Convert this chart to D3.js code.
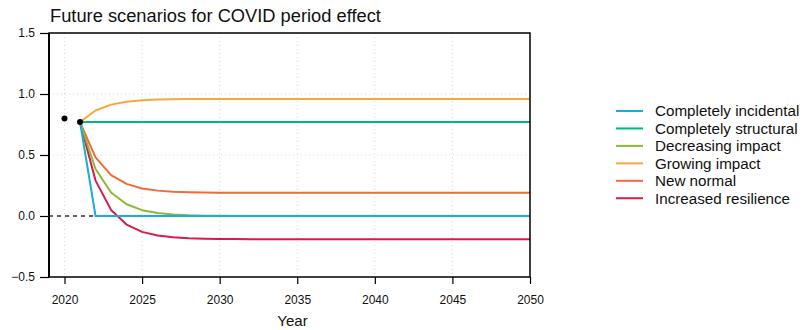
<!DOCTYPE html>
<html>
<head>
<meta charset="utf-8">
<script src="https://cdn.jsdelivr.net/npm/d3@7"></script>
<style>
  html, body { margin: 0; padding: 0; background: #fff; }
  svg { display: block; font-family: "Liberation Sans", Arial, sans-serif; }
</style>
</head>
<body>
<svg id="chart" width="803" height="330"></svg>
<script>
// Projection years for the scenarios
const years = d3.range(2021, 2051);

// Observed period effect (2020, 2021)
const observedYears = [2020, 2021];
const observedValues = [0.80, 0.77];

// Scenario names and colours
const scenarioNames = [
  "Completely incidental",
  "Completely structural",
  "Decreasing impact",
  "Growing impact",
  "New normal",
  "Increased resilience"
];
const scenarioColors = ["#17afd9", "#00b877", "#8cb83a", "#f8a73c", "#f06a3a", "#d61c4c"];

// Scenario values, 2021 to 2050
const incidental = [0.77, 0, 0, 0, 0, 0, 0, 0, 0, 0, 0, 0, 0, 0, 0, 0, 0, 0, 0, 0, 0, 0, 0, 0, 0, 0, 0, 0, 0, 0];
const structural = [0.77, 0.77, 0.77, 0.77, 0.77, 0.77, 0.77, 0.77, 0.77, 0.77, 0.77, 0.77, 0.77, 0.77, 0.77, 0.77, 0.77, 0.77, 0.77, 0.77, 0.77, 0.77, 0.77, 0.77, 0.77, 0.77, 0.77, 0.77, 0.77, 0.77];
const decreasing = [0.77, 0.385, 0.193, 0.096, 0.048, 0.024, 0.012, 0.006, 0.003, 0.002, 0.001, 0, 0, 0, 0, 0, 0, 0, 0, 0, 0, 0, 0, 0, 0, 0, 0, 0, 0, 0];
const growing = [0.77, 0.865, 0.913, 0.936, 0.948, 0.954, 0.957, 0.959, 0.959, 0.96, 0.96, 0.96, 0.96, 0.96, 0.96, 0.96, 0.96, 0.96, 0.96, 0.96, 0.96, 0.96, 0.96, 0.96, 0.96, 0.96, 0.96, 0.96, 0.96, 0.96];
const newNormal = [0.77, 0.48, 0.335, 0.263, 0.226, 0.208, 0.199, 0.195, 0.192, 0.191, 0.19, 0.19, 0.19, 0.19, 0.19, 0.19, 0.19, 0.19, 0.19, 0.19, 0.19, 0.19, 0.19, 0.19, 0.19, 0.19, 0.19, 0.19, 0.19, 0.19];
const resilience = [0.77, 0.29, 0.05, -0.07, -0.13, -0.16, -0.175, -0.183, -0.186, -0.188, -0.189, -0.19, -0.19, -0.19, -0.19, -0.19, -0.19, -0.19, -0.19, -0.19, -0.19, -0.19, -0.19, -0.19, -0.19, -0.19, -0.19, -0.19, -0.19, -0.19];
const scenarioValues = [incidental, structural, decreasing, growing, newNormal, resilience];

// Axis ticks
const xTicks = [2020, 2025, 2030, 2035, 2040, 2045, 2050];
const yTicks = [-0.5, 0.0, 0.5, 1.0, 1.5];

// Zero reference segment
const zeroYears = [2019, 2022];

const title = "Future scenarios for COVID period effect";
const xLabel = "Year";

const svg = d3.select("#chart");
const plotLeft = 49, plotRight = 530, plotTop = 33, plotBottom = 277;

const x = d3.scaleLinear().domain([2019, 2050]).range([plotLeft, plotRight]);
const y = d3.scaleLinear().domain([-0.5, 1.5]).range([plotBottom, plotTop]);

// Grid
const grid = svg.append("g").attr("stroke", "#d9d9d9").attr("stroke-width", 1).attr("stroke-dasharray", "1,3");
grid.selectAll("line.v").data(xTicks.slice(0, -1)).join("line")
  .attr("x1", d => x(d)).attr("x2", d => x(d)).attr("y1", plotTop).attr("y2", plotBottom);
grid.selectAll("line.h").data(yTicks.slice(1, -1)).join("line")
  .attr("x1", plotLeft).attr("x2", plotRight).attr("y1", d => y(d)).attr("y2", d => y(d));

// Zero reference
svg.append("line")
  .attr("x1", x(zeroYears[0])).attr("x2", x(zeroYears[1]))
  .attr("y1", y(0)).attr("y2", y(0))
  .attr("stroke", "#333").attr("stroke-width", 1.5).attr("stroke-dasharray", "4,4");

// Scenario lines, drawn so that the first series ends up on top
const line = d3.line().x((d, i) => x(years[i])).y(d => y(d));
const series = scenarioNames.map((name, k) => ({ name, color: scenarioColors[k], values: scenarioValues[k] }));
svg.append("g").selectAll("path").data(series.slice().reverse()).join("path")
  .attr("d", d => line(d.values))
  .attr("fill", "none")
  .attr("stroke", d => d.color)
  .attr("stroke-width", 2)
  .attr("stroke-linejoin", "round");

// Observed points
svg.append("g").selectAll("circle").data(observedYears).join("circle")
  .attr("cx", d => x(d)).attr("cy", (d, i) => y(observedValues[i]))
  .attr("r", 3).attr("fill", "#000");

// Frame
svg.append("rect")
  .attr("x", plotLeft).attr("y", plotTop).attr("width", plotRight - plotLeft).attr("height", plotBottom - plotTop)
  .attr("fill", "none").attr("stroke", "#000").attr("stroke-width", 1.5);
svg.append("line")
  .attr("x1", plotLeft).attr("x2", plotLeft).attr("y1", plotTop).attr("y2", plotBottom)
  .attr("stroke", "#000").attr("stroke-width", 2);

// Axes
const xAxis = svg.append("g").attr("transform", `translate(0,${plotBottom})`)
  .call(d3.axisBottom(x).tickValues(xTicks).tickFormat(d3.format("d")).tickSize(7).tickSizeOuter(0).tickPadding(11));
const yAxis = svg.append("g").attr("transform", `translate(${plotLeft},0)`)
  .call(d3.axisLeft(y).tickValues(yTicks).tickFormat(d => d < 0 ? "\u2212" + d3.format(".1f")(-d) : d3.format(".1f")(d)).tickSize(9).tickSizeOuter(0).tickPadding(5));
[xAxis, yAxis].forEach(a => {
  a.select(".domain").remove();
  a.selectAll(".tick line").attr("stroke", "#000").attr("stroke-width", 1.2);
  a.selectAll(".tick text").attr("fill", "#111").style("font-size", "12px").style("font-family", "Liberation Sans, Arial, sans-serif");
});

// Titles
svg.append("text").attr("x", 50).attr("y", 22).attr("fill", "#111")
  .style("font-size", "18.3px").text(title);
svg.append("text").attr("x", (plotLeft + plotRight) / 2 + 3).attr("y", 326).attr("text-anchor", "middle").attr("fill", "#111")
  .style("font-size", "15px").text(xLabel);

// Legend
const legend = svg.append("g").attr("transform", "translate(616,111)");
const rows = legend.selectAll("g").data(series).join("g")
  .attr("transform", (d, i) => `translate(0,${i * 17.45})`);
rows.append("line").attr("x1", 0).attr("x2", 27).attr("stroke", d => d.color).attr("stroke-width", 2);
rows.append("text").attr("x", 39).attr("dy", "0.35em").attr("fill", "#111")
  .style("font-size", "15.2px").text(d => d.name);
</script>
</body>
</html>
